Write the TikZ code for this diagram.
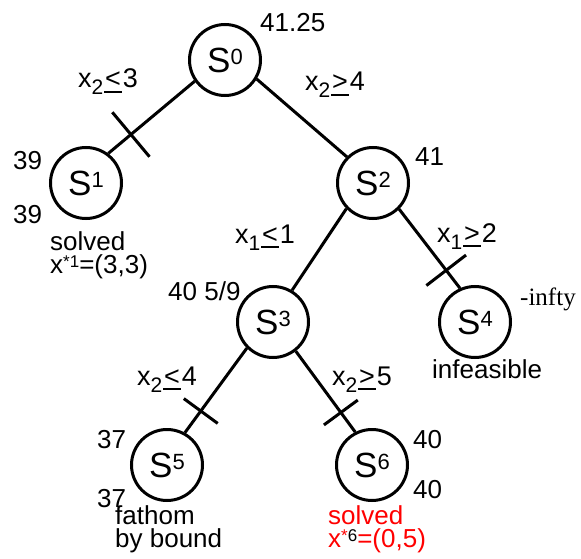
\documentclass[tikz,border=0pt]{standalone}
\usepackage{fontspec}
\setmainfont{Liberation Sans}
\newfontfamily\serifTNR{Liberation Serif}
\usetikzlibrary{decorations.markings}
\newcommand{\myle}{\hspace{0.04em}\makebox[0.64em][c]{<}\hspace{-0.64em}\raisebox{-0.2em}{\rule{0.64em}{0.08em}}\hspace{0.04em}}
\newcommand{\myge}{\hspace{0.04em}\makebox[0.64em][c]{>}\hspace{-0.64em}\raisebox{-0.2em}{\rule{0.64em}{0.08em}}\hspace{0.04em}}
\newcommand{\mysub}[1]{\raisebox{-7pt}{\fontsize{21}{21}\selectfont #1}}
\newcommand{\mysup}[1]{\raisebox{6pt}{\fontsize{17}{17}\selectfont #1}}
\newcommand{\Sname}[1]{S\raisebox{8pt}{\fontsize{22}{22}\selectfont #1}}
\begin{document}
\begin{tikzpicture}[x=1pt,y=-1pt,
  state/.style={circle,draw,line width=3pt,minimum size=71pt,inner sep=0pt,font=\fontsize{35}{35}\selectfont},
  edge/.style={line width=3pt},
  txt/.style={anchor=base west,inner sep=0pt,font=\fontsize{26}{26}\selectfont},
  brl/.style={txt,font=\fontsize{27}{27}\selectfont},
  ticked/.style 2 args={postaction={decorate,decoration={markings,mark=at position #1 with {\draw[line width=3pt] (0pt,-#2) -- (0pt,#2);}}}}]
\useasboundingbox (0,0) rectangle (581,559);
\node[state] (S0) at (225,60) {\Sname{0}};
\node[state] (S1) at (86,183) {\Sname{1}};
\node[state] (S2) at (373,183) {\Sname{2}};
\node[state] (S3) at (273,322) {\Sname{3}};
\node[state] (S4) at (475,322) {\Sname{4}};
\node[state] (S5) at (167,465) {\Sname{5}};
\node[state] (S6) at (372,465) {\Sname{6}};
\draw[edge,ticked={0.74}{29pt}] (S0.215) -- (S1.53);
\draw[edge] (S0.-31) -- (S2.135);
\draw[edge] (S2.224) -- (S3.59);
\draw[edge,ticked={0.775}{25pt}] (S2.-45) -- (S4.114);
\draw[edge,ticked={0.745}{21pt}] (S3.225) -- (S5.61);
\draw[edge,ticked={0.76}{21pt}] (S3.-52) -- (S6.117);
\node[txt] (v0) at (260,32) {41.25};
\node[brl] (b01) at (78,88) {x\mysub{2}\myle3};
\node[brl] (b02) at (305,91) {x\mysub{2}\myge4};
\node[txt] (v2) at (415,165) {41};
\node[txt] (u1) at (13,170) {39};
\node[txt] (l1) at (13,223) {39};
\node[txt] (s1a) at (50,250) {solved};
\node[txt] (s1b) at (50,273) {x\mysup{*1}=(3,3)};
\node[brl] (b23) at (235,243) {x\mysub{1}\myle1};
\node[brl] (b24) at (437,242) {x\mysub{1}\myge2};
\node[txt] (v3) at (168,300) {40 5/9};
\node[txt,font=\fontsize{25}{25}\serifTNR] (v4) at (520,305) {-infty};
\node[txt] (s4) at (432,378) {infeasible};
\node[brl] (b35) at (137,385) {x\mysub{2}\myle4};
\node[brl] (b36) at (332,385) {x\mysub{2}\myge5};
\node[txt] (u5) at (97,448) {37};
\node[txt] (l5) at (97,507) {37};
\node[txt] (s5a) at (115,524) {fathom};
\node[txt] (s5b) at (115,547) {by bound};
\node[txt] (u6) at (413,448) {40};
\node[txt] (l6) at (413,498) {40};
\node[txt,text=red] (s6a) at (328,524) {solved};
\node[txt,text=red] (s6b) at (328,547) {x\mysup{*\textcolor{black}{6}}=(0,5)};
\end{tikzpicture}
\end{document}
